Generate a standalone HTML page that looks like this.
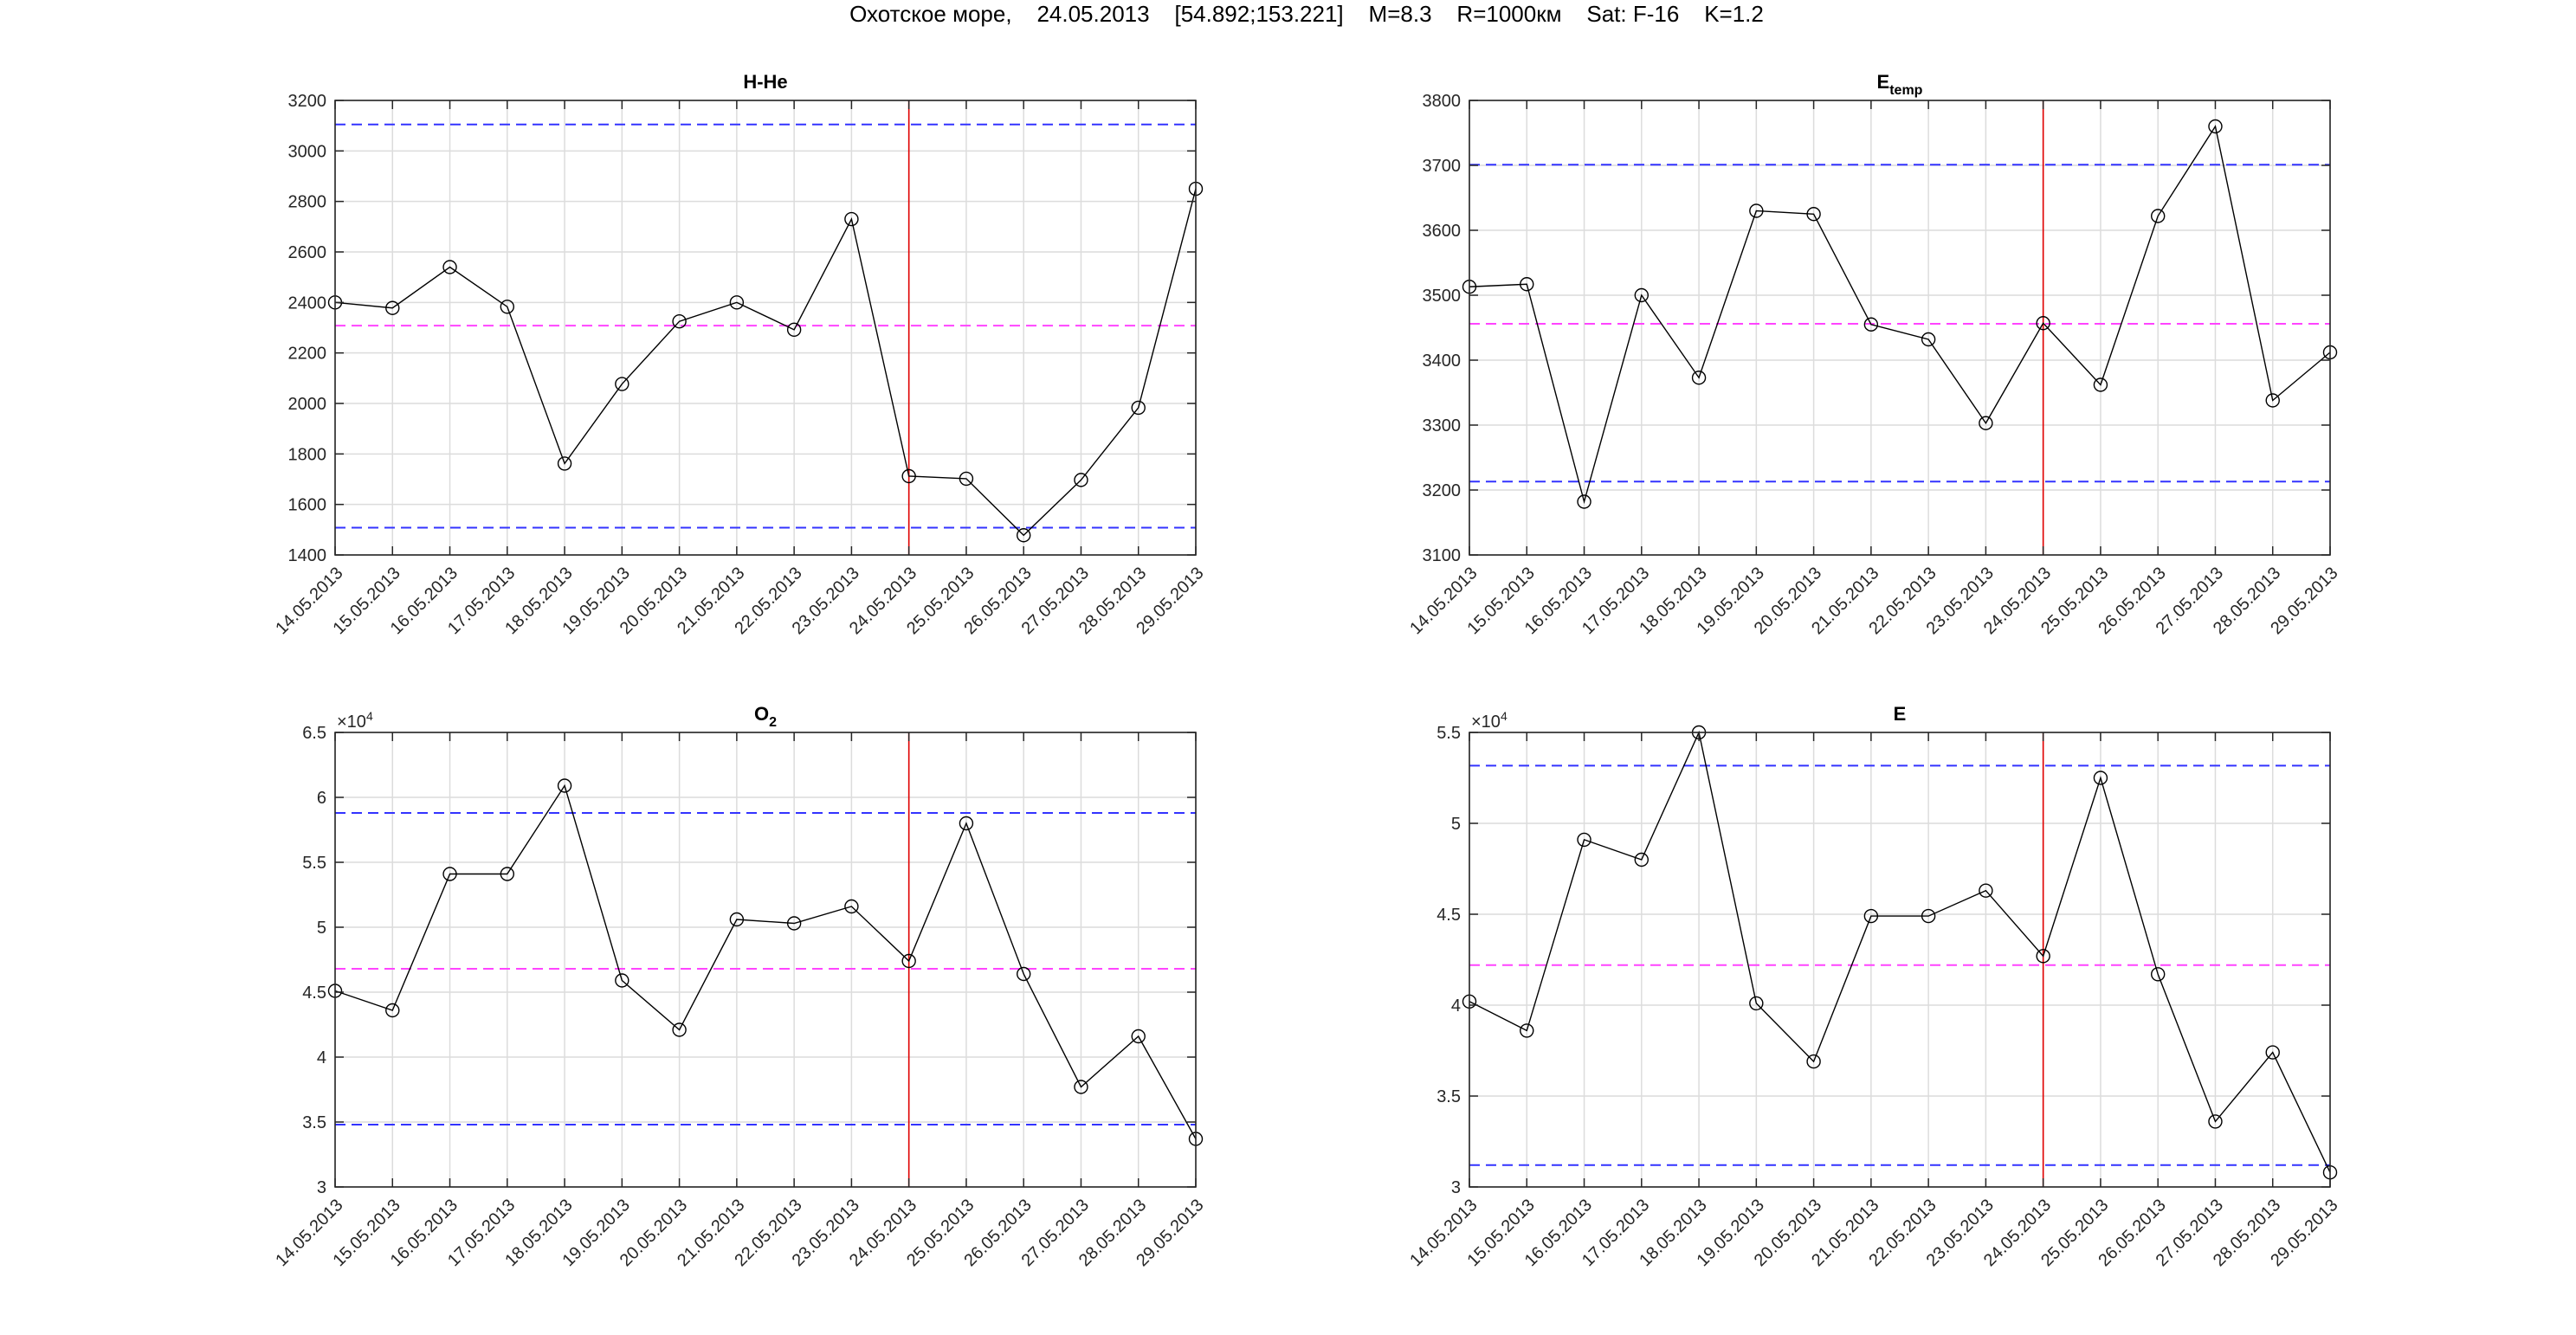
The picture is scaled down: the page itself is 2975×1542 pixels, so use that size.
<!DOCTYPE html>
<html><head><meta charset="utf-8">
<style>
html,body{margin:0;padding:0;background:#fff;}
svg{display:block;font-family:"Liberation Sans",sans-serif;}
</style></head>
<body>
<svg id="fig" width="2975" height="1542" viewBox="0 0 2975 1542" xmlns="http://www.w3.org/2000/svg">
<rect width="2975" height="1542" fill="#fff"/>
<text x="1509" y="25" font-size="26" text-anchor="middle" fill="#000" xml:space="preserve">Охотское море,    24.05.2013    [54.892;153.221]    M=8.3    R=1000км    Sat: F-16    K=1.2</text>
</svg>
<script>
const dates = ["14.05.2013","15.05.2013","16.05.2013","17.05.2013","18.05.2013","19.05.2013","20.05.2013","21.05.2013","22.05.2013","23.05.2013","24.05.2013","25.05.2013","26.05.2013","27.05.2013","28.05.2013","29.05.2013"];
const hheValues = [2400,2378,2540,2383,1762,2077,2325,2400,2292,2730,1712,1702,1478,1697,1983,2850];
const hheRefs = [3105,2308,1508];
const hheTicks = [1400,1600,1800,2000,2200,2400,2600,2800,3000,3200];
const etempValues = [3513,3517,3182,3500,3373,3630,3625,3455,3432,3303,3457,3362,3622,3760,3338,3412];
const etempRefs = [3701,3456,3213];
const etempTicks = [3100,3200,3300,3400,3500,3600,3700,3800];
const o2Values = [4.51,4.36,5.41,5.41,6.09,4.59,4.21,5.06,5.03,5.16,4.74,5.80,4.64,3.77,4.16,3.37];
const o2Refs = [5.88,4.68,3.48];
const o2Ticks = [3,3.5,4,4.5,5,5.5,6,6.5];
const eValues = [4.02,3.86,4.91,4.80,5.50,4.01,3.69,4.49,4.49,4.63,4.27,5.25,4.17,3.36,3.74,3.08];
const eRefs = [5.317,4.22,3.12];
const eTicks = [3,3.5,4,4.5,5,5.5];
const eventIndex = 10;

const NS="http://www.w3.org/2000/svg";
const svg=document.getElementById('fig');
function mk(tag,attrs,parent){const e=document.createElementNS(NS,tag);for(const k in attrs)e.setAttribute(k,attrs[k]);(parent||svg).appendChild(e);return e;}

function panel(opt){
  const L=opt.x0,R=opt.x1,T=opt.y0,B=opt.y1;
  const g=mk('g',{});
  
  
  const ymin=opt.ticks[0],ymax=opt.ticks[opt.ticks.length-1];
  const xs=i=>L+(R-L)*i/(dates.length-1);
  const ys=v=>B-(B-T)*(v-ymin)/(ymax-ymin);
  dates.forEach((d,i)=>{const l=mk('line',{x1:xs(i),x2:xs(i),y1:T,y2:B,stroke:'#dcdcdc','stroke-width':1.5},g);
    
    });
  opt.ticks.forEach(t=>{const l=mk('line',{x1:L,x2:R,y1:ys(t),y2:ys(t),stroke:'#dcdcdc','stroke-width':1.5},g);
    
    });
  const cols=['#3333ff','#ff44ff','#3333ff'];
  opt.refs.forEach((r,k)=>{const l=mk('line',{x1:L,x2:R,y1:ys(r),y2:ys(r),stroke:cols[k],'stroke-width':2,'stroke-dasharray':'12,7'},g);
    
    });
  const ev=mk('line',{x1:xs(eventIndex),x2:xs(eventIndex),y1:T,y2:B,stroke:'#e00000','stroke-width':1.6},g);
  
  
  const pts=opt.values.map((v,i)=>xs(i)+','+ys(v)).join(' ');
  const pl=mk('polyline',{points:pts,fill:'none',stroke:'#000','stroke-width':1.4},g);
  
  
  opt.values.forEach((v,i)=>{const c=mk('circle',{cx:xs(i),cy:ys(v),r:7.5,fill:'none',stroke:'#000','stroke-width':1.4},g);
    
    });
  const bx=mk('rect',{x:L,y:T,width:R-L,height:B-T,fill:'none',stroke:'#262626','stroke-width':1.6},g);
  
  
  dates.forEach((d,i)=>{
    mk('line',{x1:xs(i),x2:xs(i),y1:B,y2:B-10,stroke:'#262626','stroke-width':1.5},g);
    mk('line',{x1:xs(i),x2:xs(i),y1:T,y2:T+10,stroke:'#262626','stroke-width':1.5},g);
    const t=mk('text',{x:xs(i)+10,y:B+22,'font-size':20,'text-anchor':'end',fill:'#262626',transform:`rotate(-45 ${xs(i)+10} ${B+22})`},g);
    t.textContent=d;
    
    
  });
  opt.ticks.forEach(tv=>{
    mk('line',{x1:L,x2:L+10,y1:ys(tv),y2:ys(tv),stroke:'#262626','stroke-width':1.5},g);
    mk('line',{x1:R,x2:R-10,y1:ys(tv),y2:ys(tv),stroke:'#262626','stroke-width':1.5},g);
    const t=mk('text',{x:L-10,y:ys(tv)+7,'font-size':20,'text-anchor':'end',fill:'#262626'},g);
    t.textContent=String(tv);
    
    
  });
  if(opt.exp){
    const t=mk('text',{x:L+2,y:T-6,'font-size':20,fill:'#262626'},g);
    t.innerHTML='×10<tspan dy="-8" font-size="14">4</tspan>';
    
    
  }
  const tt=mk('text',{x:(L+R)/2,y:T-14,'font-size':22,'font-weight':'bold','text-anchor':'middle',fill:'#000'},g);
  tt.innerHTML=opt.title;
  
  
}
panel({name:'hhe-panel',x0:387,x1:1381,y0:116,y1:641,values:hheValues,refs:hheRefs,ticks:hheTicks,title:'H-He'});
panel({name:'etemp-panel',x0:1697,x1:2691,y0:116,y1:641,values:etempValues,refs:etempRefs,ticks:etempTicks,title:'E<tspan dy="7" font-size="16">temp</tspan>'});
panel({name:'o2-panel',x0:387,x1:1381,y0:846,y1:1371,values:o2Values,refs:o2Refs,ticks:o2Ticks,title:'O<tspan dy="7" font-size="16">2</tspan>',exp:true});
panel({name:'e-panel',x0:1697,x1:2691,y0:846,y1:1371,values:eValues,refs:eRefs,ticks:eTicks,title:'E',exp:true});
</script>
</body></html>
